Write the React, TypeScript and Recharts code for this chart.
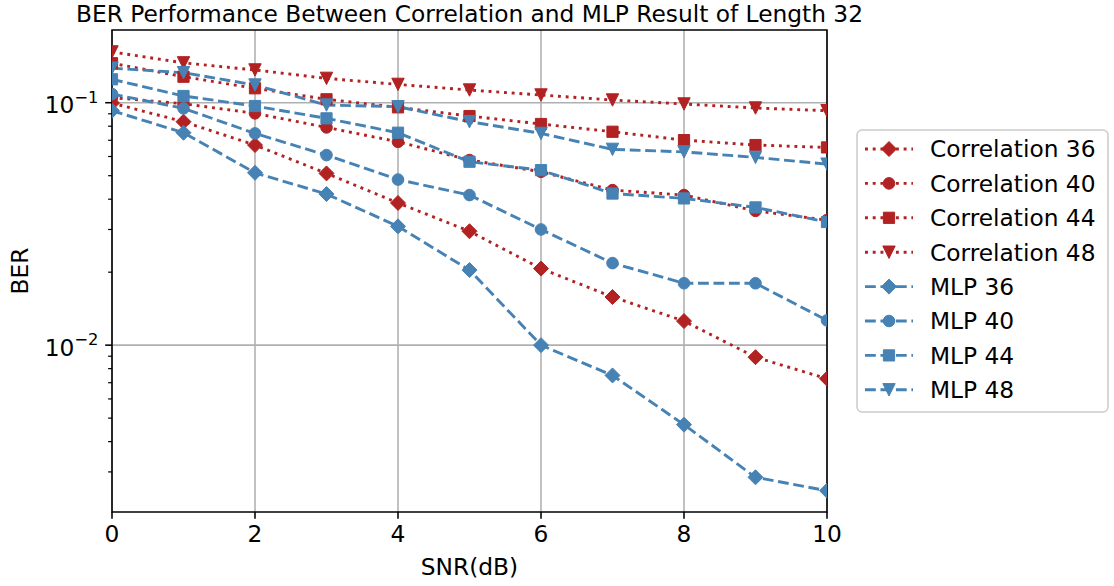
import React from 'react';
import {
  LineChart,
  Line,
  XAxis,
  YAxis,
  CartesianGrid,
  ReferenceArea,
  Legend,
  Customized,
} from 'recharts';

// ---------------- data ----------------
const snr = [0, 1, 2, 3, 4, 5, 6, 7, 8, 9, 10];
const correlation36 = [0.0997, 0.0835, 0.0669, 0.0511, 0.0386, 0.0295, 0.0207, 0.0158, 0.01257, 0.00892, 0.00727];
const correlation40 = [0.105, 0.099, 0.0904, 0.0791, 0.069, 0.058, 0.0519, 0.0436, 0.0416, 0.0358, 0.0328];
const correlation44 = [0.1455, 0.128, 0.1147, 0.1033, 0.0957, 0.0881, 0.0817, 0.0759, 0.0701, 0.0669, 0.0654];
const correlation48 = [0.162, 0.146, 0.1365, 0.126, 0.119, 0.1128, 0.1076, 0.1026, 0.0988, 0.0951, 0.0927];
const mlp36 = [0.0927, 0.0752, 0.0514, 0.042, 0.0309, 0.0204, 0.01, 0.0075, 0.0047, 0.00285, 0.00251];
const mlp40 = [0.1086, 0.0948, 0.0747, 0.0608, 0.0482, 0.0416, 0.03, 0.0218, 0.018, 0.018, 0.01265];
const mlp44 = [0.1249, 0.1066, 0.0969, 0.0862, 0.0752, 0.0571, 0.0527, 0.0422, 0.0403, 0.037, 0.0322];
const mlp48 = [0.1388, 0.133, 0.1183, 0.0978, 0.0963, 0.0835, 0.0747, 0.0642, 0.0627, 0.0595, 0.0558];

const xTicks = [0, 2, 4, 6, 8, 10];
const yMajorTicks = [0.01, 0.1];
const yMinorTicks = [0.003, 0.004, 0.005, 0.006, 0.007, 0.008, 0.009, 0.02, 0.03, 0.04, 0.05, 0.06, 0.07, 0.08, 0.09];
const yDomain = [0.00205, 0.1995];

const titleText = 'BER Performance Between Correlation and MLP Result of Length 32';
const xLabel = 'SNR(dB)';
const yLabel = 'BER';

// ---------------- styles ----------------
const RED = '#b22222';
const BLUE = '#4682b4';
const FONT = '"DejaVu Sans", "Noto Sans", sans-serif';
const FS = 23.3;
const LW = 2.9;
const DOTTED = '2.92 4.81';
const DASHED = '10.8 4.67';

type MarkerKind = 'diamond' | 'circle' | 'square' | 'triangle';

const series: { key: string; name: string; values: number[]; color: string; dash: string; marker: MarkerKind }[] = [
  { key: 'c36', name: 'Correlation 36', values: correlation36, color: RED, dash: DOTTED, marker: 'diamond' },
  { key: 'c40', name: 'Correlation 40', values: correlation40, color: RED, dash: DOTTED, marker: 'circle' },
  { key: 'c44', name: 'Correlation 44', values: correlation44, color: RED, dash: DOTTED, marker: 'square' },
  { key: 'c48', name: 'Correlation 48', values: correlation48, color: RED, dash: DOTTED, marker: 'triangle' },
  { key: 'm36', name: 'MLP 36', values: mlp36, color: BLUE, dash: DASHED, marker: 'diamond' },
  { key: 'm40', name: 'MLP 40', values: mlp40, color: BLUE, dash: DASHED, marker: 'circle' },
  { key: 'm44', name: 'MLP 44', values: mlp44, color: BLUE, dash: DASHED, marker: 'square' },
  { key: 'm48', name: 'MLP 48', values: mlp48, color: BLUE, dash: DASHED, marker: 'triangle' },
];

const data = snr.map((s, i) => {
  const row: Record<string, number> = { snr: s };
  series.forEach((se) => {
    row[se.key] = se.values[i];
  });
  return row;
});

function markerPath(kind: MarkerKind, cx: number, cy: number): string {
  if (kind === 'diamond') {
    const h = 7.5;
    return `M${cx},${cy - h}L${cx + h},${cy}L${cx},${cy + h}L${cx - h},${cy}Z`;
  }
  if (kind === 'square') {
    const h = 5.6;
    return `M${cx - h},${cy - h}L${cx + h},${cy - h}L${cx + h},${cy + h}L${cx - h},${cy + h}Z`;
  }
  if (kind === 'triangle') {
    const h = 6.2;
    return `M${cx - h},${cy - h}L${cx + h},${cy - h}L${cx},${cy + h}Z`;
  }
  const r = 5.8;
  return `M${cx - r},${cy}A${r},${r} 0 1 0 ${cx + r},${cy}A${r},${r} 0 1 0 ${cx - r},${cy}Z`;
}

const makeDot = (kind: MarkerKind, color: string, key: string) => (props: any) => {
  const { cx, cy, index } = props;
  if (cx == null || cy == null) return <g key={`${key}-${index}`} />;
  return <path key={`${key}-${index}`} d={markerPath(kind, cx, cy)} fill={color} stroke={color} strokeWidth={1} />;
};

const YTick = (props: any) => {
  const { x, y, payload } = props;
  const v = payload.value as number;
  const major = yMajorTicks.includes(v);
  const len = major ? 6.8 : 3.9;
  const exp = Math.round(-Math.log10(v));
  return (
    <g>
      <line x1={x} x2={x - len} y1={y} y2={y} stroke="#000" strokeWidth={major ? 1.56 : 1.2} />
      {major && (
        <text x={x - 13.6} y={y + 10.5} textAnchor="end" fontFamily={FONT} fontSize={FS} fill="#000">
          10
          <tspan fontSize={16.3} dy={-10.5}>
            {'\u2212' + exp}
          </tspan>
        </text>
      )}
    </g>
  );
};

const XTick = (props: any) => {
  const { x, y, payload } = props;
  return (
    <g>
      <line x1={x} x2={x} y1={y} y2={y + 6.8} stroke="#000" strokeWidth={1.56} />
      <text x={x} y={y + 30.3} textAnchor="middle" fontFamily={FONT} fontSize={FS} fill="#000">
        {payload.value}
      </text>
    </g>
  );
};

const Texts = () => (
  <g>
    <text x={469.5} y={21.5} textAnchor="middle" fontFamily={FONT} fontSize={FS} fill="#000">
      {titleText}
    </text>
    <text x={469.5} y={575} textAnchor="middle" fontFamily={FONT} fontSize={FS} fill="#000">
      {xLabel}
    </text>
    <text
      x={0}
      y={0}
      transform="translate(27.5,271) rotate(-90)"
      textAnchor="middle"
      fontFamily={FONT}
      fontSize={FS}
      fill="#000"
    >
      {yLabel}
    </text>
  </g>
);

const LegendBox = () => (
  <svg width={254} height={285} style={{ display: 'block' }}>
    <rect x={1} y={1} width={251} height={282} rx={5} ry={5} fill="#fff" fillOpacity={0.8} stroke="#cccccc" strokeWidth={1.5} />
    {series.map((s, i) => {
      const cy = 20 + 34.4 * i;
      return (
        <g key={s.key}>
          <line x1={9} x2={57} y1={cy} y2={cy} stroke={s.color} strokeWidth={LW} strokeDasharray={s.dash} />
          <path d={markerPath(s.marker, 33, cy)} fill={s.color} stroke={s.color} strokeWidth={1} />
          <text x={74} y={cy + 8.3} fontFamily={FONT} fontSize={FS} fill="#000">
            {s.name}
          </text>
        </g>
      );
    })}
  </svg>
);

export default function App() {
  return (
    <div style={{ position: 'absolute', left: 0, top: 0, width: 1114, height: 586, background: '#fff' }}>
      <LineChart width={1114} height={586} data={data} margin={{ top: 30, right: 287, bottom: 0, left: 0 }}>
        <CartesianGrid
          horizontalValues={yMajorTicks}
          verticalValues={xTicks}
          stroke="#b0b0b0"
          strokeWidth={1.56}
          fill="none"
        />
        <XAxis
          dataKey="snr"
          type="number"
          domain={[0, 10]}
          ticks={xTicks}
          interval={0}
          height={74}
          axisLine={false}
          tickLine={false}
          tickSize={0}
          tickMargin={0}
          tick={<XTick />}
          allowDataOverflow
        />
        <YAxis
          type="number"
          scale="log"
          domain={yDomain}
          ticks={[...yMinorTicks, ...yMajorTicks]}
          interval={0}
          width={112}
          axisLine={false}
          tickLine={false}
          tickSize={0}
          tickMargin={0}
          tick={<YTick />}
          allowDataOverflow
        />
        <Legend
          layout="vertical"
          align="center"
          verticalAlign="middle"
          content={() => <LegendBox />}
          wrapperStyle={{ left: 855.5, top: 129, width: 254, height: 285 }}
        />
        {series.map((s) => (
          <Line
            key={s.key}
            type="linear"
            dataKey={s.key}
            name={s.name}
            stroke={s.color}
            strokeWidth={LW}
            strokeDasharray={s.dash}
            dot={makeDot(s.marker, s.color, s.key)}
            activeDot={false}
            isAnimationActive={false}
          />
        ))}
        <ReferenceArea
          x1={0}
          x2={10}
          y1={yDomain[0]}
          y2={yDomain[1]}
          fill="none"
          fillOpacity={0}
          stroke="#000"
          strokeWidth={1.56}
          ifOverflow="visible"
        />
        <Customized component={<Texts />} />
      </LineChart>
    </div>
  );
}
